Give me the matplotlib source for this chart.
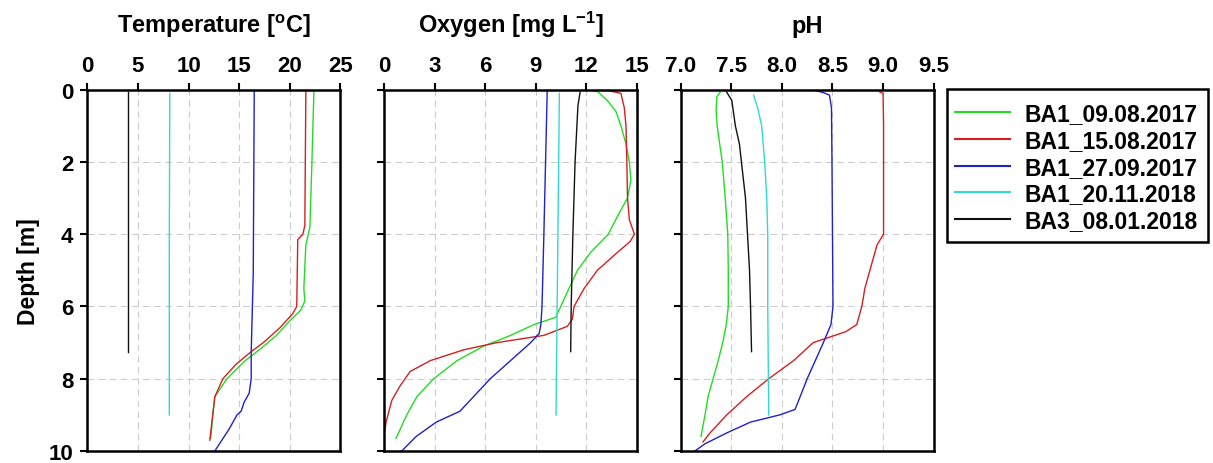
import matplotlib
matplotlib.use("Agg")
import matplotlib.pyplot as plt
from matplotlib.patches import Rectangle

plt.rcParams['font.family'] = ['Liberation Sans', 'DejaVu Sans']
plt.rcParams['font.weight'] = 'bold'
plt.rcParams['mathtext.fontset'] = 'custom'
plt.rcParams['mathtext.rm'] = 'Liberation Sans:bold'
plt.rcParams['mathtext.it'] = 'Liberation Sans:bold'
plt.rcParams['mathtext.bf'] = 'Liberation Sans:bold'
plt.rcParams['mathtext.default'] = 'rm'

labels = ["BA1_09.08.2017", "BA1_15.08.2017", "BA1_27.09.2017", "BA1_20.11.2018", "BA3_08.01.2018"]
colors = ["#22dd22", "#d42020", "#2020cc", "#30d8d8", "#111111"]

# ---- Temperature ----
temp_green_d = [0.0, 2.0, 3.8, 4.3, 5.5, 5.85, 6.1, 6.4, 6.8, 7.2, 7.5, 8.0, 8.5, 9.0, 9.65]
temp_green_v = [22.4, 22.2, 22.0, 21.6, 21.4, 21.5, 21.1, 20.0, 18.7, 17.0, 15.6, 13.8, 12.6, 12.4, 12.2]
temp_red_d = [0.0, 3.76, 4.0, 4.15, 6.0, 6.2, 6.6, 7.0, 7.25, 7.6, 8.0, 8.5, 9.0, 9.7]
temp_red_v = [21.6, 21.5, 21.3, 20.8, 20.7, 20.3, 19.0, 17.4, 16.2, 14.7, 13.4, 12.6, 12.4, 12.1]
temp_blue_d = [0.0, 5.1, 7.25, 8.0, 8.4, 8.65, 8.9, 9.0, 9.4, 10.0]
temp_blue_v = [16.5, 16.4, 16.2, 16.2, 16.0, 15.5, 15.2, 14.8, 14.0, 12.6]
temp_cyan_d = [0.1, 4.5, 9.0]
temp_cyan_v = [8.15, 8.1, 8.1]
temp_black_d = [0.07, 7.26]
temp_black_v = [4.0, 4.0]

# ---- Oxygen ----
oxy_green_d = [0.0, 0.05, 0.3, 0.6, 1.0, 1.5, 2.0, 2.5, 3.0, 3.5, 4.0, 4.5, 5.0, 5.5, 6.0, 6.3,
               6.5, 6.8, 7.1, 7.5, 8.0, 8.5, 9.0, 9.65]
oxy_green_v = [11.96, 12.66, 13.25, 13.75, 14.05, 14.35, 14.55, 14.64, 14.44, 13.85, 13.3, 12.26,
               11.47, 10.97, 10.48, 10.18, 8.9, 7.5, 5.9, 4.33, 2.94, 1.94, 1.35, 0.71]
oxy_red_d = [0.0, 0.1, 0.5, 1.0, 2.0, 3.0, 3.6, 4.0, 4.2, 4.5, 5.0, 5.5, 6.0, 6.35, 6.55, 6.8,
             7.0, 7.2, 7.5, 7.8, 8.2, 8.6, 9.2, 9.6]
oxy_red_v = [13.05, 14.05, 14.25, 14.35, 14.4, 14.44, 14.55, 14.85, 14.6, 13.85, 12.65, 11.87,
             11.27, 11.17, 10.87, 9.48, 6.7, 4.72, 2.74, 1.55, 0.95, 0.46, 0.12, 0.0]
oxy_blue_d = [0.0, 2.0, 4.0, 6.0, 6.5, 6.75, 7.0, 7.5, 8.0, 8.4, 8.9, 9.2, 9.6, 10.0]
oxy_blue_v = [9.68, 9.58, 9.48, 9.37, 9.3, 9.2, 8.7, 7.5, 6.3, 5.5, 4.5, 3.1, 1.9, 1.05]
oxy_cyan_d = [0.1, 9.0]
oxy_cyan_v = [10.4, 10.2]
oxy_black_d = [0.07, 0.44, 2.0, 4.0, 6.0, 7.25]
oxy_black_v = [11.63, 11.5, 11.33, 11.2, 11.1, 11.07]

# ---- pH ----
ph_green_d = [0.07, 0.2, 0.6, 1.0, 2.0, 3.0, 4.0, 5.0, 6.0, 6.5, 7.0, 7.5, 8.0, 8.5, 9.0, 9.6]
ph_green_v = [7.39, 7.356, 7.35, 7.36, 7.41, 7.44, 7.465, 7.47, 7.47, 7.45, 7.415, 7.37, 7.32, 7.27, 7.24, 7.2]
ph_red_d = [0.07, 0.1, 1.0, 2.0, 3.0, 4.0, 4.3, 5.0, 5.5, 6.0, 6.2, 6.5, 6.7, 7.0, 7.5, 8.0,
            8.5, 9.0, 9.5, 9.75]
ph_red_v = [8.97, 9.0, 9.005, 9.005, 9.005, 9.005, 8.94, 8.87, 8.82, 8.79, 8.77, 8.74, 8.63,
            8.31, 8.115, 7.87, 7.65, 7.455, 7.29, 7.22]
ph_blue_d = [0.03, 0.08, 0.15, 0.5, 2.0, 4.0, 6.0, 6.5, 7.0, 7.5, 8.0, 8.5, 8.85, 9.0, 9.2,
             9.5, 9.8, 10.0]
ph_blue_v = [8.345, 8.41, 8.47, 8.49, 8.495, 8.5, 8.505, 8.485, 8.41, 8.33, 8.25, 8.18, 8.13,
             7.98, 7.69, 7.455, 7.24, 7.14]
ph_cyan_d = [0.15, 0.5, 1.0, 2.0, 3.0, 4.0, 6.0, 9.0]
ph_cyan_v = [7.72, 7.76, 7.8, 7.83, 7.85, 7.86, 7.86, 7.87]
ph_black_d = [0.07, 0.3, 1.0, 1.5, 2.0, 3.0, 4.0, 5.0, 6.0, 7.25]
ph_black_v = [7.455, 7.505, 7.54, 7.58, 7.6, 7.64, 7.66, 7.68, 7.69, 7.70]

titles = ["Temperature [$^{o}$C]", "Oxygen [mg L$^{-1}$]", "pH"]
x_ticks = [[0, 5, 10, 15, 20, 25], [0, 3, 6, 9, 12, 15], [7.0, 7.5, 8.0, 8.5, 9.0, 9.5]]
x_ticklabels = [["0", "5", "10", "15", "20", "25"], ["0", "3", "6", "9", "12", "15"],
                ["7.0", "7.5", "8.0", "8.5", "9.0", "9.5"]]
y_ticks = [0, 2, 4, 6, 8, 10]

panels = [
    [(temp_green_d, temp_green_v), (temp_red_d, temp_red_v), (temp_blue_d, temp_blue_v),
     (temp_cyan_d, temp_cyan_v), (temp_black_d, temp_black_v)],
    [(oxy_green_d, oxy_green_v), (oxy_red_d, oxy_red_v), (oxy_blue_d, oxy_blue_v),
     (oxy_cyan_d, oxy_cyan_v), (oxy_black_d, oxy_black_v)],
    [(ph_green_d, ph_green_v), (ph_red_d, ph_red_v), (ph_blue_d, ph_blue_v),
     (ph_cyan_d, ph_cyan_v), (ph_black_d, ph_black_v)],
]

W, H = 1213, 464
fig = plt.figure(figsize=(W / 100, H / 100), dpi=100)
lefts = [0.072, 0.3166, 0.5612]
width = 0.2085
bottom = 0.0259
height = 0.7786

handles = []
for i, series in enumerate(panels):
    ax = fig.add_axes([lefts[i], bottom, width, height])
    for j, (d, v) in enumerate(series):
        ln, = ax.plot(v, d, color=colors[j], lw=1.0, label=labels[j])
        if i == 0:
            handles.append(ln)
    ax.set_xlim(x_ticks[i][0], x_ticks[i][-1])
    ax.set_ylim(10, 0)
    ax.xaxis.tick_top()
    ax.set_xticks(x_ticks[i])
    ax.set_xticklabels(x_ticklabels[i])
    ax.set_yticks(y_ticks)
    if i == 0:
        ax.set_yticklabels([str(t) for t in y_ticks])
        ax.set_ylabel("Depth [m]", fontsize=16.5, fontweight='bold', labelpad=6)
    else:
        ax.set_yticklabels([])
    ax.tick_params(axis='x', which='both', top=True, bottom=False, direction='out',
                   length=5, width=1.5, labelsize=16, pad=5)
    ax.tick_params(axis='y', which='both', left=True, right=False, direction='out',
                   length=5, width=1.5, labelsize=16, pad=5)
    for s in ax.spines.values():
        s.set_linewidth(1.8)
    ax.grid(True, color='#cccccc', linestyle=(0, (6, 4)), linewidth=0.8)
    ax.set_axisbelow(True)
    ax.text(0.5, 1.16, titles[i], transform=ax.transAxes, ha='center', va='baseline',
            fontsize=17, fontweight='bold')

leg = fig.legend(handles=handles, labels=labels, loc='upper left',
                 bbox_to_anchor=(947 / W, 1 - 95 / H), borderaxespad=0,
                 prop={'weight': 'bold', 'size': 16.5},
                 handlelength=2.4, handletextpad=0.65, labelspacing=0.165,
                 frameon=False, borderpad=0.35)
for lh in leg.get_lines():
    lh.set_linewidth(1.5)

# legend frame box
fig.patches.append(Rectangle((947 / W, 1 - 243 / H), (1208 - 947) / W, (243 - 90) / H,
                             transform=fig.transFigure, fill=False, edgecolor='black',
                             linewidth=1.8, figure=fig))

fig.savefig("out.png", dpi=100)
